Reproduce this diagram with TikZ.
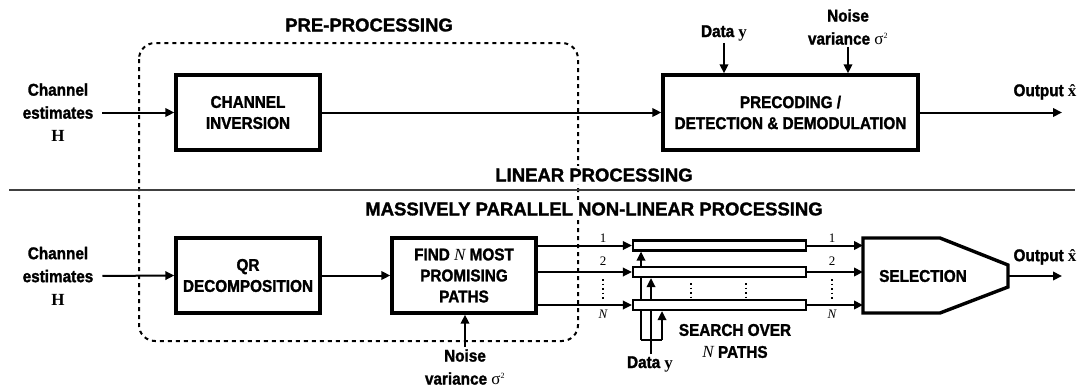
\documentclass[tikz,border=0pt]{standalone}
\usepackage{fontspec}
\setmainfont{Liberation Sans}[FakeStretch=0.9, BoldFeatures={FakeBold=1.5}]
\newfontfamily\hdrfont{Liberation Sans}[BoldFeatures={FakeBold=1.5}]
\newfontfamily\seriffont{Liberation Serif}
\usetikzlibrary{arrows.meta,backgrounds}
\newcommand\mybH{{\seriffont\bfseries H}}
\newcommand\myby{{\seriffont\bfseries y}}
\newcommand\mysig{{\seriffont\mdseries σ\textsuperscript{\fontsize{8}{8}\selectfont 2}}}
\newcommand\myxh{{\seriffont\bfseries \^{x}}}
\newcommand\myN{{\seriffont\itshape\mdseries N}}
\begin{document}
\begin{tikzpicture}[x=1pt,y=-1pt,
  txt/.style={font=\fontsize{17}{23}\selectfont\bfseries, align=center, inner sep=2pt},
  hdr/.style={font=\hdrfont\fontsize{18.5}{22}\selectfont\bfseries, inner sep=2pt, fill=white},
  box/.style={draw, line width=3.4pt, minimum width=144pt, minimum height=75pt, align=center,
              font=\fontsize{17}{21}\selectfont\bfseries, inner sep=1pt},
  bar/.style={draw, fill=white, line width=2.2pt, minimum width=173pt, minimum height=10pt, inner sep=0pt},
  arr/.style={-{Triangle[length=9pt,width=8.5pt]}, line width=2pt},
  ln/.style={line width=2pt},
  num/.style={font=\seriffont\fontsize{13}{13}\selectfont, inner sep=0pt},
  dots/.style={line width=1.5pt, dash pattern=on 1.5pt off 3pt}
]
\useasboundingbox (0,0) rectangle (1081,388);

% dashed pre-processing region
\draw[line width=2pt, dash pattern=on 4pt off 4pt, rounded corners=16pt] (139,43) rectangle (578,341);
\node[hdr] (pre) at (369,25) {PRE-PROCESSING};

% separator
\draw[line width=1.2pt, black!75] (9,190) -- (1075,190);
\node[hdr] (lin) at (594,175) {LINEAR PROCESSING};
\node[hdr] (mpn) at (594,209) {MASSIVELY PARALLEL NON-LINEAR PROCESSING};

% ---------- top: linear processing ----------
\node[txt] (chH1) at (58,112.5) {Channel\\estimates\\\mybH};
\node[box] (ci) at (248,112.5) {CHANNEL\\INVERSION};
\node[box, minimum width=255pt] (pd) at (790.5,112.5) {PRECODING /\\DETECTION \& DEMODULATION};
\node[txt] (dy1) at (724,33) {Data \myby};
\node[txt] (nv1) at (848,27) {Noise\\variance \mysig};
\coordinate (out1) at (1062,112.5);
\node[txt] (o1) at (1045,92) {Output \myxh};

\draw[arr, shorten <=7pt] (chH1.east) -- (ci.west);
\draw[arr] (ci.east) -- (pd.west);
\draw[arr] (dy1.south) -- (pd.north -| dy1);
\draw[arr] (nv1.south) -- (pd.north -| nv1);
\draw[arr] (pd.east) -- (out1);

% ---------- bottom: non-linear processing ----------
\node[txt] (chH2) at (58,276) {Channel\\estimates\\\mybH};
\node[box] (qr) at (248,275.5) {QR\\DECOMPOSITION};
\node[box] (fp) at (464,275.5) {FIND \myN\ MOST\\PROMISING\\PATHS};
\node[txt] (nv2) at (465,367) {Noise\\variance \mysig};

\draw[arr, shorten <=7pt] (chH2.east) -- (qr.west);
\draw[arr] (qr.east) -- (fp.west);
\draw[arr] (nv2.north) -- (fp.south -| nv2);

% bars
\node[bar] (b1) at (719.5,245.5) {};
\node[bar] (b2) at (719.5,272) {};
\node[bar] (bN) at (719.5,305) {};

\draw[arr] (fp.east |- b1.west) -- (b1.west);
\draw[arr] (fp.east |- b2.west) -- (b2.west);
\draw[arr] (fp.east |- bN.west) -- (bN.west);
\node[num] (l1a) at (603,238) {1};
\node[num] (l2a) at (603,261) {2};
\node[num, font=\seriffont\itshape\fontsize{13}{13}\selectfont] (lNa) at (603,314) {N};
\draw[dots] (603,279) -- (603,299);

% data y feed to bars
\node[txt] (dy2) at (650,364) {Data \myby};
\coordinate (fl) at (641,340);
\coordinate (fr) at (662,340);
\coordinate (dyt) at (651,354);
\begin{scope}[on background layer]
\draw[ln] (fl) -- (fr);
\draw[arr] (fl) -- (fl |- b1.south);
\draw[arr] (dyt) -- (dyt |- b2.south);
\draw[arr] (fr) -- (fr |- bN.south);
\end{scope}
\draw[dots] (691,283) -- (691,297);
\draw[dots] (746,283) -- (746,297);
\node[txt, font=\fontsize{17}{22}\selectfont\bfseries] (so) at (735,341) {SEARCH OVER\\\myN\ PATHS};

% selection
\coordinate (snw) at (863,238);
\draw[line width=3.4pt, line join=miter] (snw) -- (940,238) -- (1008,265) -- (1008,287) -- (940,313) -- (863,313) -- cycle;
\node[txt] (sel) at (923,276) {SELECTION};
\draw[arr] (b1.east) -- (b1.east -| snw);
\draw[arr] (b2.east) -- (b2.east -| snw);
\draw[arr] (bN.east) -- (bN.east -| snw);
\node[num] (l1b) at (832,238) {1};
\node[num] (l2b) at (832,261) {2};
\node[num, font=\seriffont\itshape\fontsize{13}{13}\selectfont] (lNb) at (832,314) {N};
\draw[dots] (832,279) -- (832,299);
\coordinate (sout) at (1008,276);
\coordinate (out2) at (1062,276);
\draw[arr] (sout) -- (out2);
\node[txt] (o2) at (1045,257) {Output \myxh};
\end{tikzpicture}
\end{document}
